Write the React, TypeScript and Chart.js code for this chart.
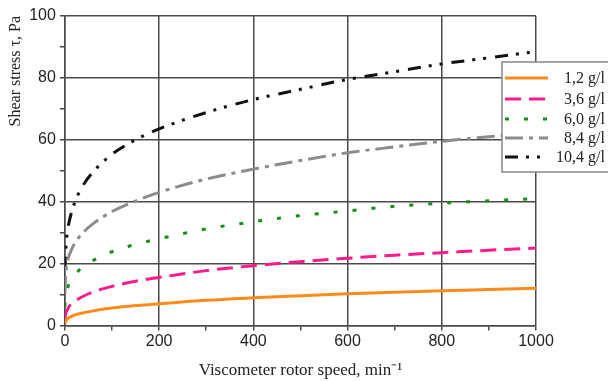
import React, { useEffect, useRef } from "react";
import { Chart, registerables } from "chart.js";

Chart.register(...registerables);

const speeds = [0, 1, 3, 5, 10, 20, 40, 60, 100, 150, 200, 300, 400, 500, 600, 700, 800, 900, 1000];
const s12 = [0.5, 1.2, 1.7, 2.1, 2.6, 3.3, 4.1, 4.7, 5.6, 6.4, 7.0, 8.1, 8.9, 9.6, 10.2, 10.7, 11.2, 11.6, 12.0];
const s36 = [2.0, 3.2, 4.3, 5.0, 6.3, 7.7, 9.5, 10.8, 12.6, 14.3, 15.5, 17.7, 19.3, 20.6, 21.7, 22.7, 23.5, 24.3, 25.0];
const s60 = [6.0, 8.0, 10.3, 11.7, 13.8, 16.2, 19.1, 21.0, 23.8, 26.2, 28.0, 31.2, 33.5, 35.5, 37.0, 38.5, 39.5, 40.3, 41.0];
const s84 = [10.0, 14.0, 18.5, 20.5, 23.0, 26.3, 30.2, 32.9, 36.8, 40.2, 43.0, 47.3, 50.5, 53.3, 55.8, 57.7, 59.5, 61.0, 62.0];
const s104 = [18.0, 22.0, 27.0, 30.0, 34.1, 39.4, 45.6, 49.6, 55.3, 60.0, 63.5, 68.8, 73.0, 76.3, 79.5, 82.0, 84.5, 86.5, 88.5];

const seriesLabels = ["1,2 g/l", "3,6 g/l", "6,0 g/l", "8,4 g/l", "10,4 g/l"];
const seriesValues = [s12, s36, s60, s84, s104];
const seriesColors = ["#ff8c1a", "#ff1a8c", "#1a8c1a", "#8c8c8c", "#111111"];
const seriesDashes: number[][] = [[], [16, 8], [4, 15], [18, 6, 4, 6], [13, 8, 3, 8, 3, 9]];

const xTitle = "Viscometer rotor speed, min\u207B\u00B9";
const yTitle = "Shear stress \u03C4, Pa";

const GRID = "#4a4a4a";

const legendPlugin = {
  id: "boxLegend",
  afterDraw(chart: any) {
    const ctx = chart.ctx;
    ctx.save();
    const left = 502, top = 62, w = 110, h = 110;
    ctx.fillStyle = "#ffffff";
    ctx.fillRect(left, top, w, h);
    ctx.strokeStyle = "#888888";
    ctx.lineWidth = 1.5;
    ctx.strokeRect(left, top, w, h);
    const rows = [78, 99, 119, 138, 157];
    chart.data.datasets.forEach((ds: any, i: number) => {
      const y = rows[i];
      ctx.beginPath();
      ctx.strokeStyle = ds.borderColor;
      ctx.lineWidth = 3;
      ctx.setLineDash(ds.borderDash || []);
      ctx.moveTo(505, y);
      ctx.lineTo(548, y);
      ctx.stroke();
      ctx.setLineDash([]);
      ctx.fillStyle = "#222";
      ctx.font = "16px 'Liberation Serif'";
      ctx.textAlign = "right";
      ctx.textBaseline = "middle";
      ctx.fillText(ds.label, 605, y + 1);
    });
    ctx.restore();
  },
};

export default function App() {
  const ref = useRef<HTMLCanvasElement>(null);
  useEffect(() => {
    const datasets = seriesLabels.map((label, i) => ({
      label,
      data: speeds.map((x, j) => ({ x, y: seriesValues[i][j] })),
      borderColor: seriesColors[i],
      backgroundColor: seriesColors[i],
      borderDash: seriesDashes[i],
      borderWidth: 3,
      pointRadius: 0,
      cubicInterpolationMode: "monotone" as const,
      fill: false,
    }));
    const chart = new Chart(ref.current!, {
      type: "line",
      data: { datasets },
      plugins: [legendPlugin],
      options: {
        animation: false,
        responsive: true,
        maintainAspectRatio: false,
        layout: { padding: { top: 16, right: 72, bottom: 0, left: 6 } },
        plugins: { legend: { display: false }, tooltip: { enabled: false } },
        scales: {
          x: {
            type: "linear",
            min: 0,
            max: 1000,
            ticks: {
              stepSize: 100,
              autoSkip: false,
              maxRotation: 0,
              color: "#222",
              font: { family: "'Liberation Sans'", size: 16 },
              callback: (v: any) => (Number(v) % 200 === 0 ? String(v) : ""),
              padding: 2,
            },
            grid: {
              color: (c: any) => (c.tick && c.tick.value % 200 === 0 ? GRID : "rgba(0,0,0,0)"),
              tickColor: GRID,
              lineWidth: 1.5,
              tickLength: 5,
            },
            border: { display: true, color: GRID, width: 1.5 },
            title: {
              display: true,
              text: xTitle,
              color: "#222",
              font: { family: "'Liberation Serif'", size: 17 },
              padding: { top: 7, bottom: 0 },
            },
          },
          y: {
            min: 0,
            max: 100,
            ticks: {
              stepSize: 10,
              autoSkip: false,
              color: "#222",
              font: { family: "'Liberation Sans'", size: 16 },
              callback: (v: any) => (Number(v) % 20 === 0 ? String(v) : ""),
              padding: 4,
            },
            grid: {
              color: (c: any) => (c.tick && c.tick.value % 20 === 0 ? GRID : "rgba(0,0,0,0)"),
              tickColor: GRID,
              lineWidth: 1.5,
              tickLength: 5,
            },
            border: { display: true, color: GRID, width: 1.5 },
            title: {
              display: true,
              text: yTitle,
              align: "end",
              color: "#222",
              font: { family: "'Liberation Serif'", size: 16 },
              padding: { top: 0, bottom: 0 },
            },
          },
        },
      },
    });
    return () => chart.destroy();
  }, []);
  return (
    <div style={{ position: "fixed", left: 0, top: 0, width: 608, height: 381, background: "#fff" }}>
      <canvas ref={ref} />
    </div>
  );
}
